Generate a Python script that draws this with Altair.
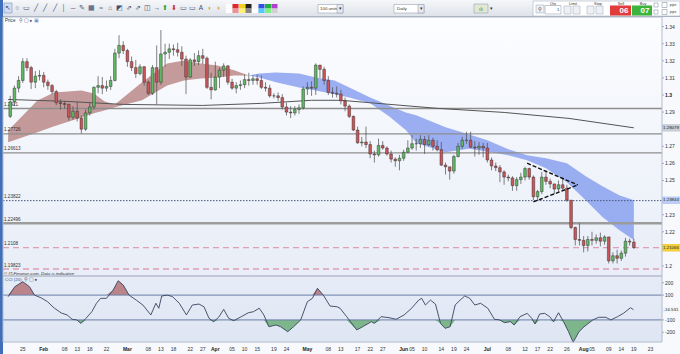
import altair as alt
import pandas as pd

# ---------------- data (GBP/USD daily, trading-day index 0 = Jan 25) ----------------
day_idx = list(range(-3, 147))
first_open = 1.2875
closes = [
    1.2960, 1.3040, 1.3085, 1.3195, 1.3160, 1.3075, 1.3110, 1.3115, 1.3075, 1.3055,
    1.3020, 1.2955, 1.2950, 1.2945, 1.2870, 1.2905, 1.2865, 1.2800, 1.2895, 1.2930,
    1.3045, 1.3055, 1.3040, 1.3050, 1.3085, 1.3245, 1.3290, 1.3260, 1.3195, 1.3160,
    1.3125, 1.3165, 1.3075, 1.3010, 1.3160, 1.3075, 1.3240, 1.3250, 1.3270, 1.3265,
    1.3250, 1.3210, 1.3105, 1.3205, 1.3195, 1.3230, 1.3215, 1.3045, 1.3030, 1.3105,
    1.3145, 1.3170, 1.3075, 1.3040, 1.3055, 1.3060, 1.3090, 1.3085, 1.3095, 1.3085,
    1.3045, 1.3040, 1.2995, 1.2995, 1.2985, 1.2930, 1.2900, 1.2895, 1.2915, 1.2925,
    1.3035, 1.3045, 1.3040, 1.3175, 1.3150, 1.3085, 1.3015, 1.3010, 1.3005, 1.2965,
    1.2935, 1.2875, 1.2795, 1.2720, 1.2725, 1.2710, 1.2655, 1.2650, 1.2705, 1.2690,
    1.2655, 1.2625, 1.2615, 1.2630, 1.2665, 1.2690, 1.2715, 1.2715, 1.2740, 1.2710,
    1.2735, 1.2700, 1.2680, 1.2590, 1.2580, 1.2555, 1.2640, 1.2700, 1.2735, 1.2735,
    1.2695, 1.2690, 1.2700, 1.2690, 1.2620, 1.2585, 1.2575, 1.2550, 1.2520, 1.2515,
    1.2470, 1.2505, 1.2520, 1.2570, 1.2520, 1.2405, 1.2435, 1.2520, 1.2495, 1.2480,
    1.2450, 1.2475, 1.2455, 1.2385, 1.2225, 1.2155, 1.2150, 1.2120, 1.2155, 1.2150,
    1.2165, 1.2145, 1.2170, 1.2030, 1.2060, 1.2045, 1.2075, 1.2145, 1.2140, 1.2108,
]
highs = [
    1.2995, 1.3055, 1.3110, 1.3215, 1.3215, 1.3170, 1.3140, 1.3145, 1.3135, 1.3090,
    1.3065, 1.3030, 1.2975, 1.2965, 1.2950, 1.2935, 1.2960, 1.2880, 1.2915, 1.2955,
    1.3050, 1.3110, 1.3105, 1.3085, 1.3110, 1.3270, 1.3350, 1.3315, 1.3270, 1.3225,
    1.3205, 1.3180, 1.3170, 1.3085, 1.3175, 1.3290, 1.3380, 1.3300, 1.3300, 1.3295,
    1.3305, 1.3285, 1.3230, 1.3215, 1.3245, 1.3260, 1.3270, 1.3225, 1.3130, 1.3195,
    1.3160, 1.3185, 1.3175, 1.3095, 1.3075, 1.3085, 1.3120, 1.3130, 1.3115, 1.3120,
    1.3115, 1.3075, 1.3060, 1.3010, 1.3015, 1.3005, 1.2955, 1.2935, 1.2935, 1.2945,
    1.3050, 1.3075, 1.3080, 1.3185, 1.3175, 1.3165, 1.3110, 1.3045, 1.3050, 1.3030,
    1.2985, 1.2945, 1.2880, 1.2815, 1.2755, 1.2815, 1.2730, 1.2675, 1.2745, 1.2730,
    1.2700, 1.2675, 1.2635, 1.2650, 1.2680, 1.2735, 1.2765, 1.2745, 1.2765, 1.2760,
    1.2765, 1.2750, 1.2735, 1.2725, 1.2605, 1.2575, 1.2650, 1.2720, 1.2755, 1.2785,
    1.2785, 1.2730, 1.2725, 1.2720, 1.2720, 1.2635, 1.2605, 1.2590, 1.2560, 1.2535,
    1.2525, 1.2520, 1.2545, 1.2580, 1.2575, 1.2530, 1.2445, 1.2550, 1.2560, 1.2510,
    1.2480, 1.2500, 1.2515, 1.2475, 1.2385, 1.2230, 1.2250, 1.2175, 1.2175, 1.2200,
    1.2185, 1.2195, 1.2180, 1.2170, 1.2080, 1.2095, 1.2090, 1.2165, 1.2160, 1.2160,
]
lows = [
    1.2865, 1.2935, 1.3015, 1.3070, 1.3140, 1.3035, 1.3040, 1.3085, 1.3045, 1.3030,
    1.3005, 1.2940, 1.2915, 1.2920, 1.2850, 1.2855, 1.2845, 1.2775, 1.2790, 1.2880,
    1.2915, 1.3010, 1.3005, 1.3020, 1.3030, 1.3080, 1.3215, 1.3240, 1.3165, 1.3140,
    1.3100, 1.3115, 1.3055, 1.3000, 1.3000, 1.2945, 1.3060, 1.3165, 1.3210, 1.3230,
    1.3225, 1.3170, 1.3005, 1.3100, 1.3170, 1.3175, 1.3180, 1.3035, 1.2975, 1.3025,
    1.3040, 1.3105, 1.3060, 1.3030, 1.3010, 1.3030, 1.3040, 1.3055, 1.3060, 1.3060,
    1.3035, 1.3020, 1.2985, 1.2980, 1.2965, 1.2915, 1.2880, 1.2865, 1.2880, 1.2890,
    1.2915, 1.3000, 1.2995, 1.3000, 1.3100, 1.3060, 1.3000, 1.2985, 1.2985, 1.2945,
    1.2905, 1.2865, 1.2790, 1.2715, 1.2700, 1.2690, 1.2630, 1.2605, 1.2640, 1.2680,
    1.2645, 1.2605, 1.2580, 1.2560, 1.2615, 1.2660, 1.2680, 1.2675, 1.2690, 1.2655,
    1.2700, 1.2675, 1.2670, 1.2585, 1.2535, 1.2505, 1.2540, 1.2635, 1.2685, 1.2715,
    1.2690, 1.2640, 1.2650, 1.2635, 1.2605, 1.2560, 1.2555, 1.2490, 1.2475, 1.2495,
    1.2440, 1.2440, 1.2480, 1.2500, 1.2505, 1.2385, 1.2380, 1.2420, 1.2475, 1.2455,
    1.2420, 1.2430, 1.2440, 1.2375, 1.2215, 1.2120, 1.2120, 1.2080, 1.2085, 1.2120,
    1.2130, 1.2115, 1.2125, 1.2015, 1.2015, 1.2015, 1.2030, 1.2055, 1.2120, 1.2100,
]

# price cloud (two shaded bands)
red_idx = [-3.5, 3.5, 7.5, 14, 17, 19.5, 22, 28.5, 34.5, 38.5, 42.5, 46.5, 50.5, 54]
red_top = [1.2793, 1.2968, 1.3015, 1.3027, 1.3009, 1.2963, 1.2945, 1.3074, 1.3184, 1.3202, 1.3184, 1.3173, 1.3144, 1.3114]
red_bot = [1.2723, 1.2782, 1.2817, 1.2869, 1.2893, 1.2910, 1.2928, 1.2969, 1.3056, 1.3085, 1.3097, 1.3103, 1.3114, 1.3114]
blue_idx = [54, 56.5, 60.5, 66, 70, 74.5, 78, 83, 87.5, 91.5, 94, 101, 106.5, 111, 116, 120.5, 125, 130, 134.5, 138.5, 142.5, 146]
blue_top = [1.3114, 1.3126, 1.3132, 1.3126, 1.3103, 1.3085, 1.3044, 1.2986, 1.2939, 1.2898, 1.2881, 1.2811, 1.2770, 1.2735,
            1.2683, 1.2648, 1.2630, 1.2601, 1.2525, 1.2467, 1.2414, 1.2385]
blue_bot = [1.3114, 1.3103, 1.3074, 1.3044, 1.3027, 1.3004, 1.2986, 1.2951, 1.2875, 1.2795, 1.2720, 1.2665, 1.2685, 1.2670,
            1.2648, 1.2618, 1.2572, 1.2490, 1.2385, 1.2286, 1.2210, 1.2152]

# long moving average
ma_idx = [-3.5, 10, 24, 43, 57, 69, 76, 99, 115, 130.5, 146]
ma_val = [1.2974, 1.2963, 1.2945, 1.2939, 1.2951, 1.2969, 1.2969, 1.2922, 1.2898, 1.2863, 1.2808]

# horizontal levels
level_val = [1.2921, 1.27726, 1.26613, 1.23822, 1.22496, 1.2108, 1.19823]
level_txt = ["1.2921", "1.27726", "1.26613", "1.23822", "1.22496", "1.2108", "1.19823"]
level_kind = ["solid", "solid", "solid", "dotted", "thick", "dash", "dash"]

# triangle trend lines
tri_seg = ["upper", "upper", "lower", "lower"]
tri_idx = [120.5, 132.6, 122.0, 132.6]
tri_val = [1.2601, 1.2474, 1.2375, 1.2474]

# CCI(20)
cci_idx = [-3.5, -1.9, 0, 1.6, 2.8, 4.5, 5.9, 7.5, 9.2, 10.6, 11.8, 12.9, 13.9, 15.1, 16.5, 17.6, 18.6, 20.0,
           21.6, 22.8, 24.0, 25.4, 27.1, 28.7, 30.6, 31.8, 32.5, 33.2, 34.6, 35.8, 37.4, 39.1, 40.5, 42.1,
           43.3, 44.5, 45.6, 46.8, 48.0, 49.2, 50.4, 52.2, 53.9, 55.1, 56.5, 57.6, 58.8, 60.5, 61.6, 63.3,
           64.7, 66.4, 68.0, 69.2, 70.4, 71.8, 73.4, 75.1, 75.8, 77.4, 79.8, 81.2, 83.3, 84.0, 85.6, 87.5,
           89.2, 91.1, 92.9, 94.6, 95.3, 96.2, 97.4, 98.6, 99.8, 100.9, 102.1, 103.3, 104.5, 105.6, 106.8,
           108.0, 109.4, 111.1, 112.7, 113.9, 115.1, 116.5, 117.4, 118.8, 120.5, 121.6, 122.4, 123.5, 124.7,
           125.9, 126.8, 128.0, 129.2, 130.4, 131.5, 132.9, 134.1, 136.2, 137.6, 139.3, 140.5, 142.1, 143.5,
           145.2, 145.9]
cci_val = [87, 168, 208, 168, 100, 76, 47, -4, -44, -60, -95, -100, -128, -87, -34, 34, 74, 74,
           141, 216, 181, 100, 60, 20, -60, 34, -6, 93, 100, 87, 34, -60, 20, 28,
           6, -87, -114, -79, -15, -87, -106, -74, -42, -34, -6, -60, -155, -141, -155, -195,
           -155, -100, 47, 74, 155, 100, 12, 6, -6, -74, -181, -155, -114, -128, -74, -82,
           -95, -60, -6, 60, 74, 20, 60, 28, -128, -168, -155, 20, 60, 93, 74,
           20, 34, -6, -95, -100, -122, -114, -141, -74, -47, -87, -133, -52, -47,
           -74, -114, -42, -114, -195, -280, -195, -155, -100, -79, -79, -100, -74, -47,
           -2, -17]

# axis labels
tick_vals = [0, 5, 10, 13, 16, 20, 25, 30, 33, 36, 40, 43, 46, 50, 53, 56, 60, 63, 68, 73, 76, 80, 83, 86,
             91, 93, 96, 100, 103, 106, 111, 116, 120, 123, 126, 130, 134, 136, 140, 143, 146, 150]
tick_txt = ["25", "Feb", "08", "13", "18", "22", "Mar", "08", "13", "18", "22", "27", "Apr", "05", "10", "15",
            "19", "24", "May", "08", "13", "17", "22", "27", "Jun", "05", "10", "14", "19", "24", "Jul", "08",
            "12", "17", "22", "26", "Aug", "05", "09", "14", "19", "23"]
month_txt = ["Feb", "Mar", "Apr", "May", "Jun", "Jul", "Aug"]
price_ticks = [1.2, 1.22, 1.23, 1.25, 1.26, 1.27, 1.29, 1.3, 1.31, 1.32, 1.33, 1.34]
price_tick_txt = ["1.2", "1.22", "1.23", "1.25", "1.26", "1.27", "1.29", "1.3", "1.31", "1.32", "1.33", "1.34"]
cci_ticks = [200, 100, -100, -200]
cci_tick_txt = ["200", "100", "-100", "-200"]

# highlighted values on the right scale
hl_val = [1.28079, 1.23844, 1.21066]
hl_txt = ["1.28079", "1.23844", "1.21066"]
hl_fill = ["#c9ced8", "#bccdf5", "#f2cf3c"]
cci_hl_val = [-16.531]
cci_hl_txt = ["-16.531"]

assert len(closes) == len(highs) == len(lows) == len(day_idx)
assert len(cci_idx) == len(cci_val)
assert len(tick_vals) == len(tick_txt)

# ---------------- frames ----------------
opens = [first_open] + closes[:-1]
candles = pd.DataFrame({"i": day_idx, "o": opens, "h": highs, "l": lows, "c": closes})
candles["dir"] = ["up" if c >= o else "down" for o, c in zip(opens, closes)]
red_df = pd.DataFrame({"i": red_idx, "top": red_top, "bot": red_bot})
blue_df = pd.DataFrame({"i": blue_idx, "top": blue_top, "bot": blue_bot})
ma_df = pd.DataFrame({"i": ma_idx, "v": ma_val})
lev_df = pd.DataFrame({"v": level_val, "t": level_txt, "k": level_kind})
tri_df = pd.DataFrame({"seg": tri_seg, "i": tri_idx, "v": tri_val})
cci_df = pd.DataFrame({"i": cci_idx, "v": cci_val})
hl_df = pd.DataFrame({"v": hl_val, "t": hl_txt, "f": hl_fill})
cci_hl_df = pd.DataFrame({"v": cci_hl_val, "t": cci_hl_txt})
xt_df = pd.DataFrame({"i": tick_vals, "t": tick_txt})
xt_df["m"] = xt_df["t"].isin(month_txt)
pt_df = pd.DataFrame({"v": price_ticks, "t": price_tick_txt})
pt_df["b"] = pt_df["t"] == "1.3"
ct_df = pd.DataFrame({"v": cci_ticks, "t": cci_tick_txt})
one = pd.DataFrame({"d": [0]})

FONT = "Liberation Sans"
# panel geometry (pixels)
PX0, PX1 = 3, 662
P_TOP, P_BOT = 17, 276
C_TOP, C_BOT = 276, 342

xs = alt.Scale(domain=[-3.53, 151.53], range=[PX0, PX1], nice=False, zero=False)
ys = alt.Scale(domain=[1.19415, 1.34561], range=[P_BOT, P_TOP], nice=False, zero=False)
cs = alt.Scale(domain=[-278, 254], range=[C_BOT, C_TOP], nice=False, zero=False)

X = alt.X("i:Q", scale=xs, axis=None)
YP = lambda f: alt.Y(f, scale=ys, axis=None)
YC = lambda f: alt.Y(f, scale=cs, axis=None)


def grad(top, bottom):
    return alt.LinearGradient(gradient="linear", x1=0, x2=0, y1=0, y2=1,
                              stops=[alt.GradientStop(color=top, offset=0),
                                     alt.GradientStop(color=bottom, offset=1)])


def rect(x1, x2, y1, y2, fill, stroke=None, sw=0.6):
    kw = {"color": fill}
    if stroke:
        kw.update(stroke=stroke, strokeWidth=sw)
    return alt.Chart(one).mark_rect(**kw).encode(
        x=alt.value(x1), x2=alt.value(x2), y=alt.value(y1), y2=alt.value(y2))


def label(x, y, s, size=4.6, color="#333333", weight="normal", align="center", italic=False):
    kw = dict(text=s, fontSize=size, color=color, fontWeight=weight, align=align, baseline="middle", font=FONT)
    if italic:
        kw["fontStyle"] = "italic"
    return alt.Chart(one).mark_text(**kw).encode(x=alt.value(x), y=alt.value(y))


layers = []

# ---------------- backgrounds / frames ----------------
layers += [
    rect(0, 680, 0, 354, "#f8f9fc"),
    rect(PX0, PX1, P_TOP, P_BOT, grad("#fcfdff", "#e8edf7")),
    rect(PX0, PX1, C_TOP, C_BOT, grad("#e6ecf7", "#dfe6f3")),
    rect(0, 3, 0, 354, "#3f6fba"),
]

# ---------------- toolbar ----------------
layers += [rect(3, 680, 0, 17, grad("#f6f7f9", "#dde1e8")),
           alt.Chart(one).mark_rule(color="#a9b1c2", strokeWidth=1).encode(
               x=alt.value(3), x2=alt.value(680), y=alt.value(16.5)),
           rect(4, 12, 3, 13, "#cfdcf2", "#7d95c2", 0.6)]
icons = ["↖", "○", "▭", "╱", "╱", "╱", "│", "─", "✎", "▦", "≈", "⌂", "◩", "⇗", "⇗", "◫", "→"]
for k, g in enumerate(icons):
    layers.append(label(8 + 9.3 * k, 8, g, size=6.5, color="#3e4d6e"))
layers += [
    label(165, 8, "⬆", size=6.5, color="#2ea043"), label(174, 8, "⬇", size=6.5, color="#d03030"),
    label(183, 8, "▭", size=6.5, color="#3e4d6e"), label(192, 8, "▭", size=6.5, color="#3e4d6e"),
    label(201, 8, "A", size=6.5, color="#3e4d6e"), label(210, 8, "◐", size=6.5, color="#c8a040"),
    label(218, 8, "◑", size=6.5, color="#c8a040"),
]
pal_top = ["#ffffff", "#e02828", "#f0d020", "#222222", "#f5f5f5", "#3050e0", "#20b040", "#b040d0"]
pal_bot = ["#ffffff", "#f09090", "#fff070", "#888888", "#ffffff", "#50c8ff", "#80f080", "#d0d0d0"]
for k, (a, b) in enumerate(zip(pal_top, pal_bot)):
    layers.append(rect(226 + 6.5 * k, 232 + 6.5 * k, 4, 8.5, a))
    layers.append(rect(226 + 6.5 * k, 232 + 6.5 * k, 8.5, 13, b))
layers += [
    rect(318, 343, 4.5, 13, "#ffffff", "#9aa3b5"), label(320, 8.8, "100 units", 4.4, align="left"),
    rect(337, 343, 4.5, 13, "#e6e9ef", "#9aa3b5"), label(340, 8.8, "▾", 4.5),
    rect(394, 424, 4.5, 13, "#ffffff", "#9aa3b5"), label(397, 8.8, "Daily", 4.4, align="left"),
    rect(418, 424, 4.5, 13, "#e6e9ef", "#9aa3b5"), label(421, 8.8, "▾", 4.5),
    rect(474, 488, 4, 13, "#dfe9d4", "#9aa3b5"), label(481, 8.5, "ılı", 5, color="#4a7a3a"),
    label(491, 8.5, "▾", 4.5),
    rect(533, 680, 1, 16, "#ffffff", "#aab2c2"),
    rect(536, 544, 5, 13, "#eef0f4", "#aab2c2"), label(540, 9, "⚲", 5),
    label(553, 3.6, "Qty", 3.8), rect(545, 561, 5.5, 14, "#ffffff", "#9aa3b5"), label(558, 9.8, "1", 4),
    label(573, 3.6, "Limit", 3.8), rect(564, 571, 6, 14, "#eef0f4", "#aab2c2"), rect(573, 580, 6, 14, "#eef0f4", "#aab2c2"),
    label(598, 3.6, "Stop", 3.8), rect(587, 594, 6, 14, "#eef0f4", "#aab2c2"), rect(596, 603, 6, 14, "#eef0f4", "#aab2c2"),
    label(621, 3.6, "Sell", 3.8), rect(610, 631, 5.5, 15.5, "#e23b3b"), label(624, 10.5, "06", 8, "#ffffff", "bold"),
    label(643, 3.6, "Buy", 3.8), rect(632, 652, 5.5, 15.5, "#3cb43c"), label(645, 10.5, "07", 8, "#ffffff", "bold"),
    rect(654, 658, 3, 7, "#ffffff", "#8a93a6"), rect(654, 658, 10, 14, "#ffffff", "#8a93a6"),
    rect(662, 667, 2.5, 7.5, "#ffffff", "#8a93a6"), rect(662, 667, 9.5, 14.5, "#ffffff", "#8a93a6"),
    label(673, 5, "pips", 3.6), label(673, 12, "pips", 3.6),
]

# ---------------- price panel ----------------
base = alt.Chart(candles)
lev = alt.Chart(lev_df)
layers += [
    alt.Chart(red_df).mark_area(color="#b07474", opacity=0.72).encode(x=X, y=YP("top:Q"), y2="bot:Q"),
    alt.Chart(blue_df).mark_area(color="#7c95ee", opacity=0.75).encode(x=X, y=YP("top:Q"), y2="bot:Q"),
    lev.transform_filter("datum.k == 'solid'").mark_rule(color="#8e8e8e", strokeWidth=1.3).encode(
        x=alt.value(PX0), x2=alt.value(PX1), y=YP("v:Q")),
    lev.transform_filter("datum.k == 'thick'").mark_rule(color="#9c9c9c", strokeWidth=2.6).encode(
        x=alt.value(PX0), x2=alt.value(PX1), y=YP("v:Q")),
    lev.transform_filter("datum.k == 'dotted'").mark_rule(color="#46557a", strokeWidth=1, strokeDash=[1.5, 1.5]).encode(
        x=alt.value(PX0), x2=alt.value(PX1), y=YP("v:Q")),
    lev.transform_filter("datum.k == 'dash'").mark_rule(color="#dca0b2", strokeWidth=1.3, strokeDash=[6, 4]).encode(
        x=alt.value(PX0), x2=alt.value(PX1), y=YP("v:Q")),
    lev.mark_text(fontSize=4.6, align="left", baseline="bottom", dy=-1.5, color="#333333", font=FONT).encode(
        x=alt.value(4), y=YP("v:Q"), text="t:N"),
    alt.Chart(ma_df).mark_line(color="#555555", strokeWidth=1).encode(x=X, y=YP("v:Q")),
    base.mark_rule(color="#4a4a4a", strokeWidth=0.7).encode(x=X, y=YP("l:Q"), y2="h:Q"),
    base.mark_bar(width=2.7, stroke="#2b2b2b", strokeWidth=0.45).encode(
        x=X, y=YP("o:Q"), y2="c:Q",
        color=alt.Color("dir:N", scale=alt.Scale(domain=["up", "down"], range=["#5fb862", "#c9565a"]), legend=None)),
    alt.Chart(tri_df).mark_line(color="#111111", strokeWidth=1.4, strokeDash=[4, 2]).encode(
        x=X, y=YP("v:Q"), detail="seg:N"),
    # right scale
    alt.Chart(pt_df).mark_rule(color="#8a93a6", strokeWidth=0.8).encode(
        x=alt.value(PX1), x2=alt.value(PX1 + 2), y=YP("v:Q")),
    alt.Chart(pt_df).transform_filter("!datum.b").mark_text(fontSize=5, align="left", color="#333333", font=FONT).encode(
        x=alt.value(665), y=YP("v:Q"), text="t:N"),
    alt.Chart(pt_df).transform_filter("datum.b").mark_text(fontSize=5, align="left", color="#222222", font=FONT,
                                                           fontWeight="bold").encode(
        x=alt.value(665), y=YP("v:Q"), text="t:N"),
    alt.Chart(hl_df).mark_tick(orient="horizontal", size=18, thickness=7.5, opacity=1).encode(
        x=alt.value(671), y=YP("v:Q"), color=alt.Color("f:N", scale=None)),
    alt.Chart(hl_df).mark_text(fontSize=4.4, color="#222222", font=FONT).encode(
        x=alt.value(671), y=YP("v:Q"), text="t:N"),
    label(5, 20.5, "Price", 4.6, align="left"),
    label(21, 20.5, "⚲", 4.6, color="#3e4d6e"), label(26, 20.5, "▢", 4.6, color="#3e4d6e"),
    label(31, 20.5, "●", 4.6, color="#3e4d6e"), label(36, 20.5, "▣", 4.6, color="#6b8fc9"),
    label(4, 273.5, "© IT-Finance.com. Data is indicative", 4.4, align="left", italic=True),
]

# ---------------- CCI panel ----------------
cci_base = alt.Chart(cci_df)
layers += [
    cci_base.transform_calculate(hi="max(datum.v, 100)", b="100").mark_area(color="#b57a7e", opacity=0.9).encode(
        x=X, y=YC("hi:Q"), y2="b:Q"),
    cci_base.transform_calculate(lo="min(datum.v, -100)", b="-100").mark_area(color="#73b07f", opacity=0.9).encode(
        x=X, y=YC("lo:Q"), y2="b:Q"),
    alt.Chart(pd.DataFrame({"v": [100, -100]})).mark_rule(color="#6a7ea8", strokeWidth=1).encode(
        x=alt.value(PX0), x2=alt.value(PX1), y=YC("v:Q")),
    cci_base.mark_line(color="#39435e", strokeWidth=0.9).encode(x=X, y=YC("v:Q")),
    alt.Chart(ct_df).mark_rule(color="#8a93a6", strokeWidth=0.8).encode(
        x=alt.value(PX1), x2=alt.value(PX1 + 2), y=YC("v:Q")),
    alt.Chart(ct_df).mark_text(fontSize=5, align="left", color="#333333", font=FONT).encode(
        x=alt.value(665), y=YC("v:Q"), text="t:N"),
    alt.Chart(cci_hl_df).mark_tick(orient="horizontal", size=18, thickness=7, color="#f4f6fb", opacity=1).encode(
        x=alt.value(671), y=YC("v:Q")),
    alt.Chart(cci_hl_df).mark_text(fontSize=4.4, color="#222222", font=FONT).encode(
        x=alt.value(671), y=YC("v:Q"), text="t:N"),
    label(5, 279.5, "CCI (20)", 4.4, color="#2f4f8f", align="left"),
    label(26, 279.5, "⚲", 4.6, color="#3e4d6e"), label(31, 279.5, "▢", 4.6, color="#3e4d6e"),
    label(36, 279.5, "●", 4.6, color="#3e4d6e"),
    # bottom time labels
    alt.Chart(xt_df).transform_filter("!datum.m").mark_text(fontSize=5, color="#333333", font=FONT).encode(
        x=X, y=alt.value(348.5), text="t:N"),
    alt.Chart(xt_df).transform_filter("datum.m").mark_text(fontSize=5, color="#222222", font=FONT,
                                                           fontWeight="bold").encode(
        x=X, y=alt.value(348.5), text="t:N"),
]

# panel borders on top
layers += [
    rect(PX0, PX1, P_TOP, P_BOT, "transparent", "#b3bbcb", 1),
    rect(PX0, PX1, C_TOP, C_BOT, "transparent", "#b3bbcb", 1),
]

chart = alt.layer(*layers).resolve_scale(y="independent", color="independent").properties(
    width=680, height=354, padding=0, autosize=alt.AutoSizeParams(type="none"), background="#f8f9fc"
).configure(font=FONT).configure_view(stroke=None)

chart.save("out.html", embed_options={"renderer": "svg", "actions": False})
